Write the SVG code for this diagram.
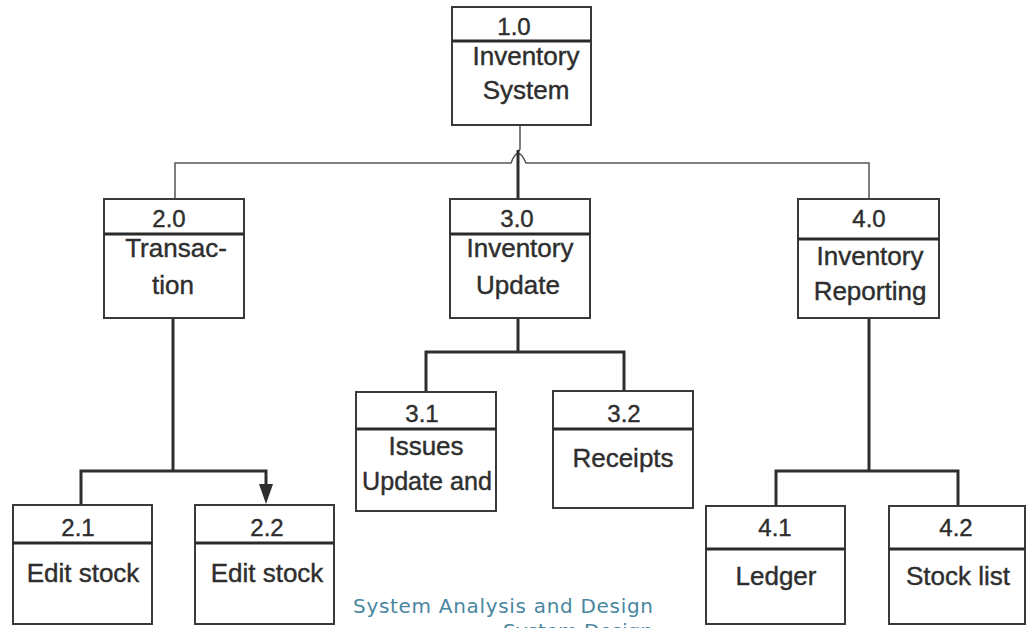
<svg xmlns="http://www.w3.org/2000/svg" width="1027" height="628" viewBox="0 0 1027 628">
<style>
.box{fill:#fff;stroke:#3a3a3a;stroke-width:2}
.div{stroke:#2a2a2a;stroke-width:3}
.num{font-family:"Liberation Sans",Arial,sans-serif;font-size:24px;fill:#2e2e2e;stroke:#2e2e2e;stroke-width:0.4;text-anchor:middle}
.lbl{font-family:"Liberation Sans",Arial,sans-serif;font-size:26px;fill:#2e2e2e;stroke:#2e2e2e;stroke-width:0.4;text-anchor:middle}
.thin{fill:none;stroke:#555;stroke-width:1.5}
.thick{fill:none;stroke:#2e2e2e;stroke-width:3}
.foot{font-family:"DejaVu Sans",Verdana,sans-serif;font-size:20px;fill:#4a86a0}
</style>
<rect width="1027" height="628" fill="#fff"/>
<g id="connectors">
<path class="thin" d="M520,125 V149 L518,152"/>
<path class="thin" d="M175,199 V163 H511 Q518,144 526,163 H869 V199"/>
<path class="thick" d="M518,150 V199"/>
<path class="thick" d="M518,318 V352 M426,392 V352 H624 V391"/>
<path class="thick" d="M173,318 V471 M81,505 V471 H266 V486"/>
<path d="M259,484 L273,484 L266,504 Z" fill="#2e2e2e"/>
<path class="thick" d="M869,318 V471 M776,506 V471 H958 V506"/>
</g>
<g id="n1_0">
<rect class="box" x="452" y="7" width="139" height="118"/>
<line class="div" x1="452" y1="41" x2="591" y2="41"/>
<text class="num" x="514" y="35">1.0</text>
<text class="lbl" x="526" y="65">Inventory</text>
<text class="lbl" x="526" y="99">System</text>
</g>
<g id="n2_0">
<rect class="box" x="104" y="199" width="140" height="119"/>
<line class="div" x1="104" y1="234" x2="244" y2="234"/>
<text class="num" x="169" y="227">2.0</text>
<text class="lbl" x="176" y="257">Transac-</text>
<text class="lbl" x="173" y="294">tion</text>
</g>
<g id="n3_0">
<rect class="box" x="450" y="199" width="140" height="119"/>
<line class="div" x1="450" y1="234" x2="590" y2="234"/>
<text class="num" x="517" y="227">3.0</text>
<text class="lbl" x="520" y="257">Inventory</text>
<text class="lbl" x="518" y="294">Update</text>
</g>
<g id="n4_0">
<rect class="box" x="798" y="199" width="141" height="119"/>
<line class="div" x1="798" y1="239" x2="939" y2="239"/>
<text class="num" x="869" y="227">4.0</text>
<text class="lbl" x="870" y="265">Inventory</text>
<text class="lbl" x="870" y="300">Reporting</text>
</g>
<g id="n3_1">
<rect class="box" x="356" y="392" width="140" height="119"/>
<line class="div" x1="356" y1="429" x2="496" y2="429"/>
<text class="num" x="422" y="422">3.1</text>
<text class="lbl" x="426" y="455">Issues</text>
<text class="lbl" x="427" y="490" textLength="130" lengthAdjust="spacingAndGlyphs">Update and</text>
</g>
<g id="n3_2">
<rect class="box" x="553" y="391" width="140" height="117"/>
<line class="div" x1="553" y1="429" x2="693" y2="429"/>
<text class="num" x="624" y="422">3.2</text>
<text class="lbl" x="623" y="467">Receipts</text>
</g>
<g id="n2_1">
<rect class="box" x="13" y="505" width="139" height="119"/>
<line class="div" x1="13" y1="543" x2="152" y2="543"/>
<text class="num" x="78" y="536">2.1</text>
<text class="lbl" x="83" y="582">Edit stock</text>
</g>
<g id="n2_2">
<rect class="box" x="195" y="505" width="139" height="119"/>
<line class="div" x1="195" y1="543" x2="334" y2="543"/>
<text class="num" x="267" y="536">2.2</text>
<text class="lbl" x="267" y="582">Edit stock</text>
</g>
<g id="n4_1">
<rect class="box" x="706" y="506" width="139" height="118"/>
<line class="div" x1="706" y1="549" x2="845" y2="549"/>
<text class="num" x="775" y="536">4.1</text>
<text class="lbl" x="776" y="585">Ledger</text>
</g>
<g id="n4_2">
<rect class="box" x="889" y="506" width="136" height="118"/>
<line class="div" x1="889" y1="549" x2="1025" y2="549"/>
<text class="num" x="956" y="536">4.2</text>
<text class="lbl" x="958" y="585">Stock list</text>
</g>
<g id="footer">
<text class="foot" x="353" y="613" textLength="300" lengthAdjust="spacing">System Analysis and Design</text>
<text class="foot" x="653" y="638" text-anchor="end">System Design</text>
</g>
</svg>
